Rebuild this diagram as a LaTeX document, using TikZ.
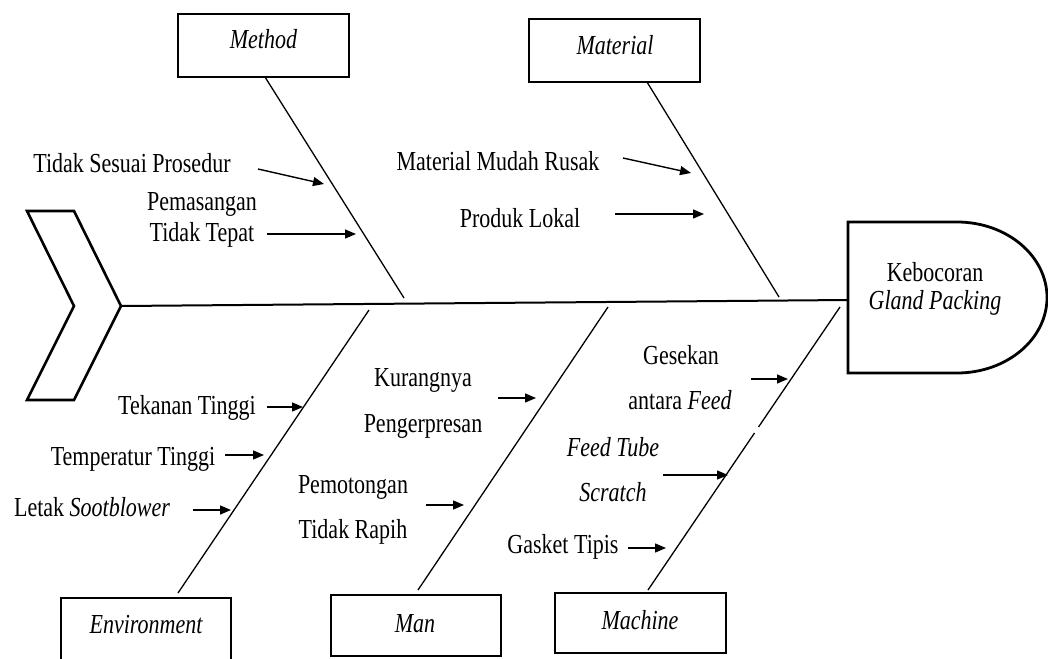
\documentclass[tikz,border=0pt]{standalone}
\usepackage{fontspec}
\usepackage{graphicx}
\setmainfont{Liberation Serif}
\usetikzlibrary{arrows.meta}
\newcommand{\vs}[1]{\scalebox{1}[1.25]{#1}}
\tikzset{
  lbl/.style={inner sep=0pt, font=\fontsize{22}{24}\selectfont},
  catbox/.style={draw, line width=2.8pt, inner sep=0pt},
  bone/.style={line width=1.3pt},
  cause/.style={line width=1.4pt, -{Triangle[length=11pt,width=9pt]}},
}
\begin{document}
\begin{tikzpicture}[x=1pt,y=-1pt]
\path[use as bounding box, clip] (0,0) rectangle (1048,658);
\fill[white] (0,0) rectangle (1048,658);

% tail
\draw[line width=2.6pt, line join=miter] (27,211) -- (74,211) -- (121,306) -- (74,400) -- (27,400) -- (74,306) -- cycle;
\coordinate (tail) at (121,306);

% head
\coordinate (headw) at (848,300);
\draw[line width=2.8pt] (957,222) -- (848,222) -- (848,373) -- (957,373) arc[start angle=90, end angle=-90, x radius=90pt, y radius=-75.5pt];
\node[lbl] (keb) at (935,272) {\vs{Kebocoran}};
\node[lbl] (glp) at (935,303) {\vs{\itshape Gland Packing}};

% spine
\draw[line width=2pt] (tail) -- (headw);

% category boxes
\node[catbox, minimum width=171pt, minimum height=63pt] (method) at (263.5,45.5) {};
\node[lbl] (methodt) at (263.5,39) {\vs{\itshape Method}};
\node[catbox, minimum width=171pt, minimum height=63pt] (material) at (614.5,50.5) {};
\node[lbl] (materialt) at (615,45) {\vs{\itshape Material}};
\draw[line width=2.8pt] (61,662) -- (61,598) -- (231,598) -- (231,662);
\coordinate (envtop) at (178,598);
\node[lbl] (envt) at (146,625) {\vs{\itshape Environment}};
\node[catbox, minimum width=170pt, minimum height=61pt] (man) at (416,625.5) {};
\node[lbl] (mant) at (415,624) {\vs{\itshape Man}};
\node[catbox, minimum width=171pt, minimum height=60pt] (machine) at (640.5,623) {};
\node[lbl] (machinet) at (640,620) {\vs{\itshape Machine}};

% bones
\coordinate (mb1) at (265,77);   \coordinate (mb2) at (404,298);
\coordinate (tb1) at (647,82);   \coordinate (tb2) at (779,297);
\coordinate (eb1) at (178,593);  \coordinate (eb2) at (369,310);
\coordinate (nb1) at (418,590);  \coordinate (nb2) at (608,307);
\coordinate (cb1) at (648,590);  \coordinate (cb2) at (840,307);
\coordinate (cg1) at (754.5,433); \coordinate (cg2) at (758.5,427);
\draw[bone] (mb1) -- (mb2);
\draw[bone] (tb1) -- (tb2);
\draw[bone] (eb1) -- (eb2);
\draw[bone] (nb1) -- (nb2);
\draw[bone] (cb1) -- (cg1);
\draw[bone] (cg2) -- (cb2);

% Method causes
\node[lbl] (tsp) at (132,163) {\vs{Tidak Sesuai Prosedur}};
\coordinate (a1s) at (258,169); \coordinate (a1e) at (324,184);
\draw[cause] (a1s) -- (a1e);
\node[lbl] (pem1) at (202,204) {\vs{Pemasangan}};
\node[lbl] (pem2) at (202,235) {\vs{Tidak Tepat}};
\coordinate (a2s) at (267,234); \coordinate (a2e) at (356,234);
\draw[cause] (a2s) -- (a2e);

% Material causes
\node[lbl] (mmr) at (498,161) {\vs{Material Mudah Rusak}};
\coordinate (a3s) at (623,158); \coordinate (a3e) at (691,173);
\draw[cause] (a3s) -- (a3e);
\node[lbl] (pl) at (520,218) {\vs{Produk Lokal}};
\coordinate (a4s) at (615,214); \coordinate (a4e) at (704,214);
\draw[cause] (a4s) -- (a4e);

% Environment causes
\node[lbl] (tt) at (187,408) {\vs{Tekanan Tinggi}};
\coordinate (a5s) at (267,407); \coordinate (a5e) at (303,407);
\draw[cause] (a5s) -- (a5e);
\node[lbl] (tmt) at (133,459) {\vs{Temperatur Tinggi}};
\coordinate (a6s) at (225,455); \coordinate (a6e) at (264,455);
\draw[cause] (a6s) -- (a6e);
\node[lbl] (ls) at (92,507) {\vs{Letak \itshape Sootblower}};
\coordinate (a7s) at (193,510); \coordinate (a7e) at (231,510);
\draw[cause] (a7s) -- (a7e);

% Man causes
\node[lbl] (kur1) at (423,380) {\vs{Kurangnya}};
\node[lbl] (kur2) at (423,426) {\vs{Pengerpresan}};
\coordinate (a8s) at (498,398); \coordinate (a8e) at (536,398);
\draw[cause] (a8s) -- (a8e);
\node[lbl] (pot1) at (353,487) {\vs{Pemotongan}};
\node[lbl] (pot2) at (353,532) {\vs{Tidak Rapih}};
\coordinate (a9s) at (426,505); \coordinate (a9e) at (464,505);
\draw[cause] (a9s) -- (a9e);

% Machine causes
\node[lbl] (ges1) at (681,355) {\vs{Gesekan}};
\node[lbl] (ges2) at (680,400) {\vs{antara \itshape Feed}};
\coordinate (a10s) at (751,379); \coordinate (a10e) at (788,379);
\draw[cause] (a10s) -- (a10e);
\node[lbl] (ft1) at (613,447) {\vs{\itshape Feed Tube}};
\node[lbl] (ft2) at (613,492) {\vs{\itshape Scratch}};
\coordinate (a11s) at (663,475); \coordinate (a11e) at (728,475);
\draw[cause] (a11s) -- (a11e);
\node[lbl] (gt) at (563,547) {\vs{Gasket Tipis}};
\coordinate (a12s) at (628,548); \coordinate (a12e) at (666,548);
\draw[cause] (a12s) -- (a12e);
\end{tikzpicture}
\end{document}
